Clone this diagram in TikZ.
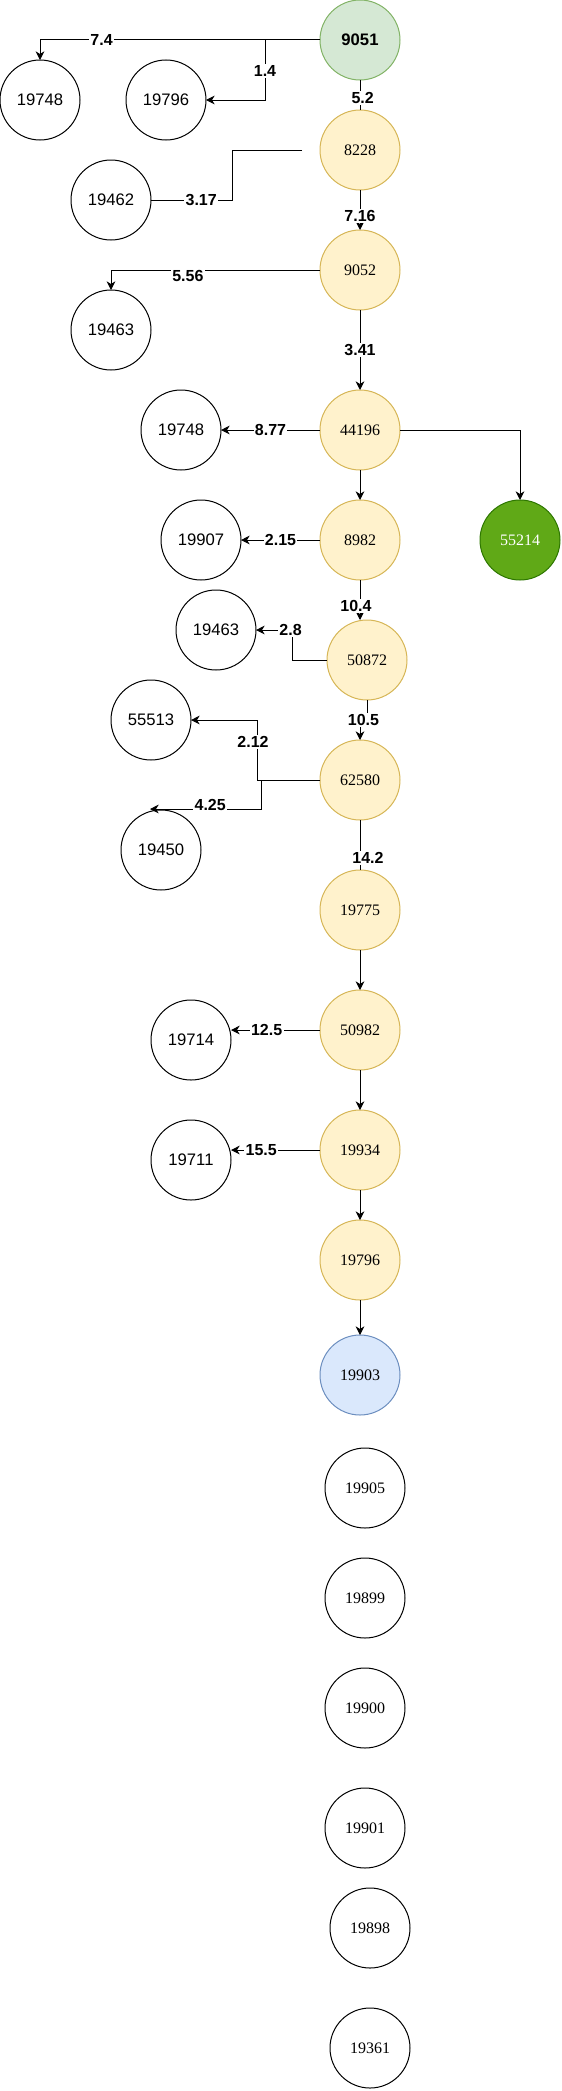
\documentclass[tikz,border=0pt]{standalone}
\usepackage{fontspec}
\setmainfont{Liberation Serif}
\setsansfont{Liberation Sans}
\usetikzlibrary{arrows.meta, positioning}
\definecolor{rtgreen}{HTML}{D5E8D4}
\definecolor{rtgreenline}{HTML}{82B366}
\definecolor{rtyellow}{HTML}{FFF2CC}
\definecolor{rtyellowline}{HTML}{D6B656}
\definecolor{rtblue}{HTML}{DAE8FC}
\definecolor{rtblueline}{HTML}{6C8EBF}
\definecolor{rtleaf}{HTML}{60A917}
\definecolor{rtleafline}{HTML}{2D7600}
\tikzset{
  hopbase/.style={circle, minimum size=60pt, inner sep=0pt, outer sep=0pt, line width=0.75pt},
  start/.style={hopbase, draw=rtgreenline, fill=rtgreen, font=\fontsize{12.5}{15}\selectfont\sffamily\bfseries},
  hop/.style={hopbase, draw=rtyellowline, fill=rtyellow, font=\fontsize{12}{14}\selectfont},
  dest/.style={hopbase, draw=rtblueline, fill=rtblue, font=\fontsize{12}{14}\selectfont},
  leaf/.style={hopbase, draw=rtleafline, fill=rtleaf, text=white, font=\fontsize{12}{14}\selectfont},
  side/.style={hopbase, draw=black, fill=white, font=\fontsize{12.5}{15}\selectfont\sffamily},
  idle/.style={hopbase, draw=black, fill=white, font=\fontsize{12}{14}\selectfont},
  lbl/.style={fill=white, inner sep=1pt, font=\fontsize{12}{14}\selectfont\sffamily\bfseries},
  arr/.style={-{Stealth[length=6.5pt, width=6.5pt, inset=2pt]}, line width=0.75pt},
  wire/.style={line width=0.75pt},
}
\begin{document}
\begin{tikzpicture}[x=0.75pt, y=-0.75pt]
        \useasboundingbox (0,0) rectangle (561,2091);
        \node[start] (n9051) at (360,40) {9051};
        \node[hop, below=22.5pt of n9051] (n8228) {8228};
        \node[hop, below=30pt of n8228] (n9052) {9052};
        \node[hop, below=60pt of n9052] (n44196) {44196};
        \node[hop, below=22.5pt of n44196] (n8982) {8982};
        \node[hop, below=30pt of n8982, xshift=5.25pt] (n50872) {50872};
        \node[hop, below=30pt of n50872, xshift=-5.25pt] (n62580) {62580};
        \node[hop, below=37.5pt of n62580] (n19775) {19775};
        \node[hop, below=30pt of n19775] (n50982) {50982};
        \node[hop, below=30pt of n50982] (n19934) {19934};
        \node[hop, below=22.5pt of n19934] (n19796) {19796};
        \node[dest, below=26.25pt of n19796] (n19903) {19903};
        \node[idle, below=24.75pt of n19903, xshift=3.75pt] (n19905) {19905};
        \node[idle, below=22.5pt of n19905] (n19899) {19899};
        \node[idle, below=22.5pt of n19899] (n19900) {19900};
        \node[idle, below=30pt of n19900] (n19901) {19901};
        \node[idle, below=15pt of n19901, xshift=3.75pt] (n19898) {19898};
        \node[idle, below=30pt of n19898] (n19361) {19361};
        \node[side] (n19748a) at (40,100) {19748};
        \node[side] (n19796a) at (166,100) {19796};
        \node[side] (n19462) at (111,200) {19462};
        \node[side] (n19463a) at (111,330) {19463};
        \node[side, left=74.25pt of n44196] (n19748b) {19748};
        \node[leaf, right=60pt of n8982] (n55214) {55214};
        \node[side, left=59.25pt of n8982] (n19907) {19907};
        \node[side] (n19463b) at (216,630) {19463};
        \node[side] (n55513) at (151,720) {55513};
        \node[side] (n19450) at (161,850) {19450};
        \node[side] (n19714) at (191,1040) {19714};
        \node[side] (n19711) at (191,1160) {19711};
        \coordinate (k1) at ([xshift=-41.25pt]n9051.west);
        \coordinate (k2) at ([xshift=-66pt]n8228.west);
        \coordinate (k3) at ([xshift=-26.25pt]n50872.west);
        \coordinate (k4) at ([xshift=-47.25pt]n62580.west);
        \coordinate (k5) at ([xshift=-43.875pt]n62580.west);
        \coordinate (k6) at (150,809);
        \draw[arr] (n9051.west) -| node[lbl, pos=0.39]{7.4} (n19748a.north);
        \draw[arr] (n9051.west) -- (k1) |- node[lbl, pos=0.26]{1.4} (n19796a.east);
        \draw[wire] (n9051) -- node[lbl, pos=0.6, xshift=2pt]{5.2} (n8228);
        \draw[wire] ([xshift=-13.5pt]n8228.west) -- (k2) |- node[lbl, pos=0.69]{3.17} (n19462.east);
        \draw[arr] (n8228) -- node[lbl, pos=0.66]{7.16} (n9052);
        \draw[arr] (n9052.west) -| node[lbl, pos=0.316, yshift=-4.5pt]{5.56} (n19463a.north);
        \draw[arr] (n9052) -- node[lbl]{3.41} (n44196);
        \draw[arr] (n44196) -- node[lbl]{8.77} (n19748b);
        \draw[arr] (n44196.east) -| (n55214.north);
        \draw[arr] (n8982) -- node[lbl]{2.15} (n19907);
        \draw[arr] (n8982.south) -- node[lbl, pos=0.65, xshift=-3pt]{10.4} (n8982.south |- n50872.north);
        \draw[arr] (n50872.west) -- (k3) |- node[lbl, pos=0.52]{2.8} (n19463b.east);
        \draw[arr] (n50872.south) -- ++(0,20) -| node[lbl, pos=0.25]{10.5} (n62580.north);
        \draw[arr] (n62580.west) -- (k4) |- node[lbl, pos=0.32, xshift=-3pt]{2.12} (n55513.east);
        \draw[arr] (n62580.west) -- (k5) |- node[lbl, pos=0.73, yshift=3pt]{4.25} (k6);
        \draw[wire] (n62580) -- node[lbl, pos=0.76, xshift=6pt]{14.2} (n19775);
        \draw[arr] (n50982.west) -- node[lbl, pos=0.6]{12.5} (n50982.west -| n19714.east);
        \draw[arr] (n19934.west) -- node[lbl, pos=0.66]{15.5} (n19934.west -| n19711.east);
        \foreach \a/\b in {n44196/n8982, n19775/n50982, n50982/n19934, n19934/n19796, n19796/n19903}
          \draw[arr] (\a) -- (\b);
      \end{tikzpicture}
\end{document}
